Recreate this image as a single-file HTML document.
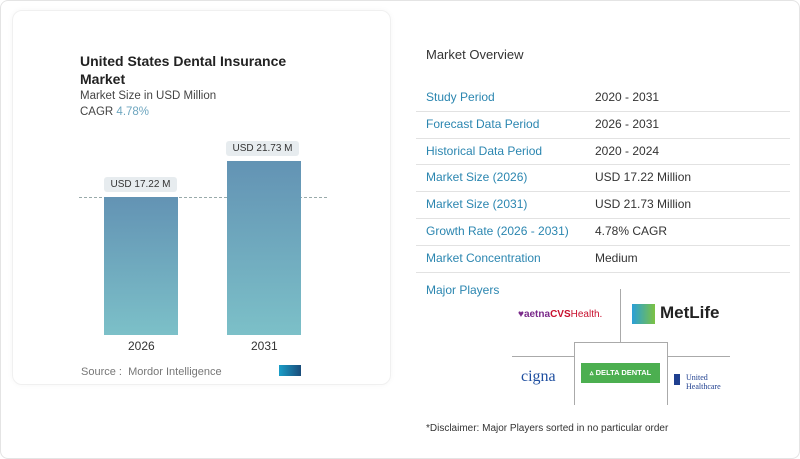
<!DOCTYPE html>
<html><head><meta charset="utf-8"><style>
*{margin:0;padding:0;box-sizing:border-box}
body{width:800px;height:459px;background:#fff;font-family:"Liberation Sans",sans-serif;position:relative;overflow:hidden}
.abs{position:absolute;white-space:nowrap}
.outer{position:absolute;left:0;top:0;width:800px;height:459px;border:1px solid #e4e4e4;border-radius:8px}
.card{position:absolute;left:12px;top:10px;width:379px;height:375px;border:1px solid #f0f0f0;border-radius:10px;box-shadow:0 0 6px rgba(0,0,0,0.04)}
.bar{position:absolute;background:linear-gradient(#6393b4,#7cc0c8)}
.lbl{position:absolute;background:#e7ecef;border-radius:3px;font-size:10px;color:#333;text-align:center;height:15px;line-height:15px}
.k{position:absolute;left:426px;font-size:12px;color:#2b86b0}
.v{position:absolute;left:595px;font-size:12px;color:#333}
.sep{position:absolute;left:416px;width:374px;height:1px;background:#e2e2e2}
</style></head><body>
<div class="outer"></div>
<div class="card"></div>
<div class="abs" style="left:80px;top:52px;font-size:14px;font-weight:bold;color:#222;line-height:18px">United States Dental Insurance<br>Market</div>
<div class="abs" style="left:80px;top:90px;font-size:11.5px;color:#444">Market Size in USD Million</div>
<div class="abs" style="left:80px;top:106px;font-size:11.5px;color:#444">CAGR <span style="color:#6ea6bf">4.78%</span></div>
<div style="position:absolute;left:79px;top:197px;width:248px;border-top:1px dashed #9aa"></div>
<div class="bar" style="left:104px;top:197px;width:74px;height:138px"></div>
<div class="bar" style="left:227px;top:161px;width:74px;height:174px"></div>
<div class="lbl" style="left:104px;top:177px;width:73px">USD 17.22 M</div>
<div class="lbl" style="left:226px;top:141px;width:73px">USD 21.73 M</div>
<div class="abs" style="left:128px;top:339px;font-size:12px;color:#333">2026</div>
<div class="abs" style="left:251px;top:339px;font-size:12px;color:#333">2031</div>
<div class="abs" style="left:81px;top:366px;font-size:11px;color:#777">Source :&nbsp; Mordor Intelligence</div>
<div class="abs" style="left:279px;top:365px;width:22px;height:11px;background:linear-gradient(90deg,#1a9ec8,#1a4c7a)"></div>
<div class="abs" style="left:426px;top:47px;font-size:13px;color:#333">Market Overview</div>
<div class="k" style="top:90px">Study Period</div><div class="v" style="top:90px">2020 - 2031</div><div class="sep" style="top:111px"></div>
<div class="k" style="top:117px">Forecast Data Period</div><div class="v" style="top:117px">2026 - 2031</div><div class="sep" style="top:138px"></div>
<div class="k" style="top:144px">Historical Data Period</div><div class="v" style="top:144px">2020 - 2024</div><div class="sep" style="top:164px"></div>
<div class="k" style="top:170px">Market Size (2026)</div><div class="v" style="top:170px">USD 17.22 Million</div><div class="sep" style="top:191px"></div>
<div class="k" style="top:197px">Market Size (2031)</div><div class="v" style="top:197px">USD 21.73 Million</div><div class="sep" style="top:218px"></div>
<div class="k" style="top:224px">Growth Rate (2026 - 2031)</div><div class="v" style="top:224px">4.78% CAGR</div><div class="sep" style="top:245px"></div>
<div class="k" style="top:251px">Market Concentration</div><div class="v" style="top:251px">Medium</div><div class="sep" style="top:272px"></div>
<div class="k" style="top:283px">Major Players</div>
<div class="abs" style="left:620px;top:289px;width:1px;height:53px;background:#aaa"></div>
<div class="abs" style="left:574px;top:342px;width:94px;height:63px;border:1px solid #aaa;border-bottom:none"></div>
<div class="abs" style="left:512px;top:356px;width:62px;height:1px;background:#aaa"></div>
<div class="abs" style="left:668px;top:356px;width:62px;height:1px;background:#aaa"></div>
<div class="abs" style="left:518px;top:309px;font-size:10px;color:#7a2a8a;font-weight:bold">♥aetna<span style="color:#c8102e">CVS</span><span style="font-weight:normal;color:#c8102e">Health.</span></div>
<div class="abs" style="left:632px;top:304px;width:23px;height:20px;background:linear-gradient(90deg,#2a9fd8,#7cc242)"></div>
<div class="abs" style="left:660px;top:303px;font-size:17px;font-weight:bold;color:#222">MetLife</div>
<div class="abs" style="left:581px;top:363px;width:79px;height:20px;background:#4caf50;color:#fff;font-size:7.5px;font-weight:bold;text-align:center;line-height:20px">▵ DELTA DENTAL</div>
<div class="abs" style="left:521px;top:368px;font-size:16px;color:#1f4fa0;font-family:'Liberation Serif',serif">cigna</div>
<div class="abs" style="left:674px;top:374px;width:6px;height:11px;background:#1f3f8f"></div>
<div class="abs" style="left:686px;top:373px;font-size:8px;line-height:9px;color:#1f3f8f;font-family:'Liberation Serif',serif">United<br>Healthcare</div>
<div class="abs" style="left:426px;top:423px;font-size:10px;color:#333">*Disclaimer: Major Players sorted in no particular order</div>
</body></html>
